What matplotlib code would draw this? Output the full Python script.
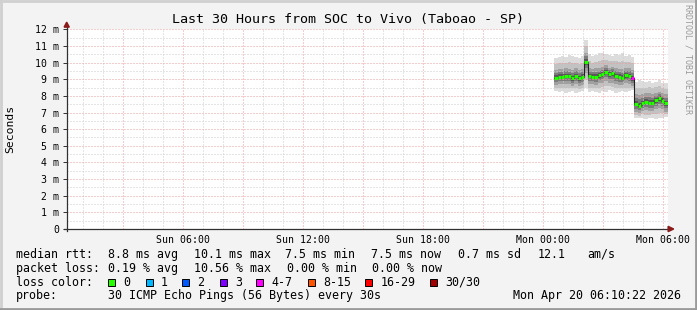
import numpy as np
import matplotlib
matplotlib.use("Agg")
import matplotlib.pyplot as plt
from matplotlib.patches import Rectangle, Polygon
from matplotlib.lines import Line2D

W, H = 697, 310
MONO = "DejaVu Sans Mono"

# time axis in hours since Sun 00:00
x_start, x_end = 0.2, 30.25
t_first = 24.58          # first sample (Mon 00:35)
t_step = 1 / 6           # 10 minute samples

# median rtt in ms, one value per sample
median_ms = [9.10, 9.15, 9.15, 9.20, 9.20, 9.05, 9.20, 9.05, 9.15, 10.05,
             9.20, 9.15, 9.15, 9.25, 9.30, 9.45, 9.30, 9.35, 9.20, 9.15,
             9.10, 9.25, 9.20, 9.05,
             7.50, 7.40, 7.55, 7.65, 7.60, 7.60, 7.75, 7.85, 7.70, 7.55]
# smoke envelope (slowest / fastest ping) in ms
smoke_max = [10.30, 10.35, 10.40, 10.35, 10.45, 10.40, 10.35, 10.30, 10.40, 11.35,
             10.50, 10.40, 10.45, 10.55, 10.60, 10.50, 10.45, 10.40, 10.50, 10.45,
             10.55, 10.40, 10.45, 10.35,
             8.85, 8.95, 8.90, 8.85, 8.90, 8.80, 8.85, 8.95, 8.80, 8.75]
smoke_min = [8.30, 8.25, 8.30, 8.20, 8.25, 8.30, 8.20, 8.25, 8.30, 8.50,
             8.25, 8.30, 8.25, 8.20, 8.30, 8.25, 8.35, 8.30, 8.20, 8.25,
             8.30, 8.25, 8.30, 8.35,
             6.70, 6.65, 6.70, 6.60, 6.65, 6.70, 6.60, 6.65, 6.70, 6.75]
# inner quartiles of the pings in ms
smoke_q75 = [9.55, 9.60, 9.60, 9.65, 9.60, 9.55, 9.65, 9.55, 9.60, 10.60,
             9.65, 9.60, 9.65, 9.70, 9.75, 9.85, 9.70, 9.75, 9.65, 9.60,
             9.60, 9.70, 9.65, 9.55,
             8.10, 8.05, 8.10, 8.15, 8.15, 8.10, 8.20, 8.25, 8.20, 8.10]
smoke_q25 = [8.65, 8.70, 8.70, 8.70, 8.70, 8.60, 8.70, 8.60, 8.65, 9.40,
             8.70, 8.70, 8.65, 8.75, 8.80, 8.90, 8.80, 8.80, 8.70, 8.65,
             8.65, 8.75, 8.70, 8.60,
             7.05, 6.95, 7.10, 7.15, 7.10, 7.10, 7.20, 7.30, 7.20, 7.05]
# loss color bucket per sample (index into loss_labels)
loss_bucket = [0] * 23 + [4] + [0] * 10

loss_labels = ["0", "1", "2", "3", "4-7", "8-15", "16-29", "30/30"]
loss_colors = ["#26ff00", "#00b8ff", "#0059ff", "#7e00ff",
               "#ff00ff", "#ff5500", "#ff0000", "#a00000"]

x_ticks = [6, 12, 18, 24, 30]
x_labels = ["Sun 06:00", "Sun 12:00", "Sun 18:00", "Mon 00:00", "Mon 06:00"]
y_ticks = list(range(13))
y_labels = ["0"] + [f"{v} m" for v in y_ticks[1:]]

title = "Last 30 Hours from SOC to Vivo (Taboao - SP)"
stats_lines = [
    ["median rtt:", "8.8 ms avg", "10.1 ms max", "7.5 ms min", "7.5 ms now",
     "0.7 ms sd", "12.1", "am/s"],
    ["packet loss:", "0.19 % avg", "10.56 % max", "0.00 % min", "0.00 % now"],
]
stats_x = [[16, 107.6, 194, 285, 371, 458, 538, 587],
           [16, 107.6, 194, 286.7, 372.4]]
probe_text = "30 ICMP Echo Pings (56 Bytes) every 30s"
stamp_text = "Mon Apr 20 06:10:22 2026"


def fx(px):
    return px / W


def fy(py):
    return 1 - py / H


fig = plt.figure(figsize=(W / 100, H / 100), dpi=100)
fig.patch.set_facecolor("#f3f3f3")

# canvas: x 66.7..667.7 px, y 29.3..229 px
ax = fig.add_axes([fx(66.7), fy(229), 601 / W, 199.7 / H])
ax.set_facecolor("white")
ax.set_xlim(x_start, x_end)
ax.set_ylim(0, 12)
for s in ax.spines.values():
    s.set_visible(False)

# grid (drawn over the smoke like rrdtool)
dot = (0, (1, 2))
for h in range(1, 31):
    col = "#f09a9a" if h % 3 == 0 else "#cdcdcd"
    ax.axvline(h, color=col, lw=0.72, ls=dot, zorder=3)
for v in np.arange(0.5, 12.01, 0.5):
    col = "#f09a9a" if float(v).is_integer() else "#cdcdcd"
    ax.axhline(v, color=col, lw=0.72, ls=dot, zorder=3)

# smoke
n = len(median_ms)
edges = t_first + np.arange(n + 1) * t_step
med = np.array(median_ms + [median_ms[-1]])
smax = np.array(smoke_max + [smoke_max[-1]])
smin = np.array(smoke_min + [smoke_min[-1]])
q75 = np.array(smoke_q75 + [smoke_q75[-1]])
q25 = np.array(smoke_q25 + [smoke_q25[-1]])

layers = [
    (smax, smin, "#dcdcdc"),
    ((smax + q75) / 2, (smin + q25) / 2, "#c2c2c2"),
    (q75, q25, "#a0a0a0"),
    (med + 0.6 * (q75 - med), med - 0.6 * (med - q25), "#7c7c7c"),
    (med + 0.3 * (q75 - med), med - 0.3 * (med - q25), "#585858"),
]
for hi, lo, col in layers:
    ax.fill_between(edges, lo, hi, step="post", color=col, lw=0, zorder=2)

# median line, colored by loss
ax.step(edges, med, where="post", color="#202020", lw=0.8, zorder=4)
for i in range(n):
    ax.plot([edges[i], edges[i + 1]], [median_ms[i], median_ms[i]],
            color=loss_colors[loss_bucket[i]], lw=2.2,
            solid_capstyle="butt", zorder=5)

# axes lines and arrows
ax.plot([x_start, x_start], [-0.12, 12.15], color="#303030", lw=0.9,
        clip_on=False, zorder=6)
ax.plot([x_start - 0.15, x_end + 0.02], [0, 0], color="#303030", lw=0.9,
        clip_on=False, zorder=6)
ax.add_patch(Polygon([(x_start - 0.13, 12.13), (x_start + 0.13, 12.13),
                      (x_start, 12.43)], closed=True, color="#8b1a1a",
                     clip_on=False, zorder=7))
ax.add_patch(Polygon([(x_end + 0.02, -0.16), (x_end + 0.02, 0.16),
                      (x_end + 0.30, 0)], closed=True, color="#8b1a1a",
                     clip_on=False, zorder=7))

ax.set_xticks(x_ticks)
ax.set_xticklabels(x_labels, fontfamily=MONO, fontsize=7.1)
ax.tick_params(axis="x", length=0, pad=4)
ax.set_yticks(y_ticks)
ax.set_yticklabels(y_labels, fontfamily=MONO, fontsize=7.1)
ax.tick_params(axis="y", length=3, width=0.7, color="#303030", pad=2.5)

# texts
fig.text(0.5, fy(19.3), title, ha="center", va="center",
         fontfamily=MONO, fontsize=9.6)
fig.text(fx(10.7), fy(129), "Seconds", rotation=90, ha="center",
         va="center", fontfamily=MONO, fontsize=8.2)
fig.text(fx(688), fy(4), "RRDTOOL / TOBI OETIKER", rotation=270,
         ha="center", va="top", fontfamily=MONO, fontsize=6, color="#9a9a9a")

line_y = [254.3, 268.3, 282.3, 296]
for parts, xs, ly in zip(stats_lines, stats_x, line_y):
    for txt, px in zip(parts, xs):
        fig.text(fx(px), fy(ly), txt, ha="left", va="center",
                 fontfamily=MONO, fontsize=8.4)

fig.text(fx(16), fy(line_y[2]), "loss color:", ha="left", va="center",
         fontfamily=MONO, fontsize=8.4)
box_x = [108.4, 145.8, 182.2, 219.6, 256.4, 307.6, 365.3, 430]
for lab, col, bx in zip(loss_labels, loss_colors, box_x):
    fig.patches.append(Rectangle((fx(bx), fy(line_y[2] + 3.5)), 7 / W, 7 / H,
                                 transform=fig.transFigure, facecolor=col,
                                 edgecolor="black", lw=0.7))
    fig.text(fx(bx + 15.2), fy(line_y[2]), lab, ha="left", va="center",
             fontfamily=MONO, fontsize=8.4)

fig.text(fx(16), fy(line_y[3]), "probe:", ha="left", va="center",
         fontfamily=MONO, fontsize=8.4)
fig.text(fx(107.6), fy(line_y[3]), probe_text, ha="left", va="center",
         fontfamily=MONO, fontsize=8.4)
fig.text(fx(513.3), fy(line_y[3]), stamp_text, ha="left", va="center",
         fontfamily=MONO, fontsize=8.4)

# 3d frame
for xs, ys, col in [([0, W], [1, 1], "#d0d0d0"), ([1, 1], [0, H], "#d0d0d0"),
                    ([0, W], [H - 1.5, H - 1.5], "#9a9a9a"),
                    ([W - 1.5, W - 1.5], [0, H], "#9a9a9a")]:
    fig.lines.append(Line2D([fx(v) for v in xs], [fy(v) for v in ys],
                            transform=fig.transFigure, color=col, lw=2))

fig.savefig("out.png", dpi=100, facecolor=fig.get_facecolor())
